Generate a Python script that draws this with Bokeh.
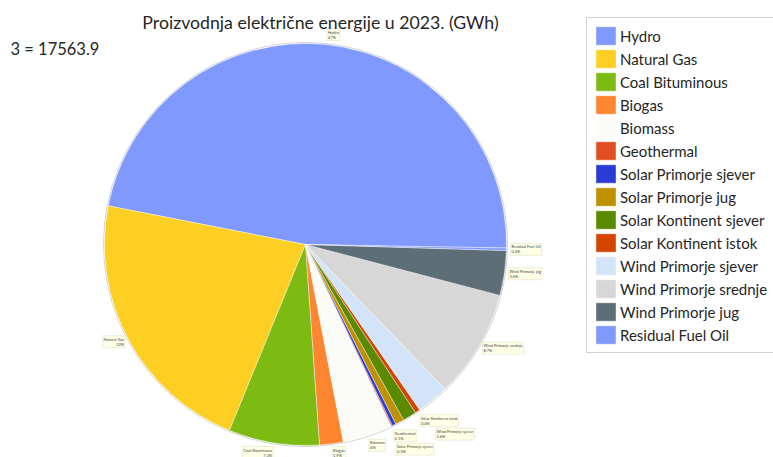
import math
from bokeh.plotting import figure
from bokeh.models import ColumnDataSource, Legend, LegendItem, Label, Range1d
from bokeh.embed import file_html
from bokeh.resources import INLINE
from bokeh.core.properties import value

# ---------------- data ----------------
categories = ["Hydro", "Natural Gas", "Coal Bituminous", "Biogas", "Biomass",
              "Geothermal", "Solar Primorje sjever", "Solar Primorje jug",
              "Solar Kontinent sjever", "Solar Kontinent istok",
              "Wind Primorje sjever", "Wind Primorje srednje",
              "Wind Primorje jug", "Residual Fuel Oil"]
values_gwh = [8290.0, 3846.5, 1282.2, 333.7, 702.6, 17.6, 52.7, 122.9,
              193.2, 70.3, 456.7, 1528.1, 632.3, 35.1]
colors = ["#8099FF", "#FCCF22", "#7DBB12", "#FF8630", "#FBFBF7", "#E04E22",
          "#2B3BD6", "#BF9000", "#5A8A00", "#D44500", "#D3E3F8", "#D7D7D7",
          "#5E6E77", "#8099FF"]
hidden_labels = ["Solar Primorje jug", "Solar Kontinent sjever"]
title_text = "Proizvodnja električne energije u 2023. (GWh)"

# ---------------- layout ----------------
W, H = 773, 457
CX, CY, R = 305, 213, 201
START = math.radians(-1.0)
FONT = "Lato"
GAP = 3

total = sum(values_gwh)
starts, ends, mids = [], [], []
acc = 0.0
for v in values_gwh:
    a0 = START + 2 * math.pi * acc / total
    acc += v
    a1 = START + 2 * math.pi * acc / total
    starts.append(a0)
    ends.append(a1)
    mids.append((a0 + a1) / 2)

src = ColumnDataSource(dict(cat=categories, val=values_gwh, color=colors,
                            start=starts, end=ends))

p = figure(width=W, height=H, x_range=Range1d(0, W), y_range=Range1d(0, H),
           output_backend="svg", toolbar_location=None,
           x_axis_location=None, y_axis_location=None,
           min_border=0, outline_line_color=None)
p.grid.visible = False
p.background_fill_color = "white"

# faint outline ring
p.circle(x=[CX], y=[CY], radius=R + 1, fill_color=None,
         line_color="#D2D2D2", line_width=1.0)

wedges = p.wedge(x=CX, y=CY, radius=R, start_angle="start", end_angle="end",
                 direction="anticlock", source=src, fill_color="color",
                 line_color="white", line_width=0.4)

# ---------------- slice labels ----------------
def fmt_pct(v):
    return "{:.2g}%".format(100.0 * v / total)

lx, ly, ltxt, lalign, lbase = [], [], [], [], []
placed = []
for cat, v, m in zip(categories, values_gwh, mids):
    if cat in hidden_labels:
        continue
    txt = cat + "\n" + fmt_pct(v)
    c, s = math.cos(m), math.sin(m)
    ax = CX + (R + 4) * c
    ay = CY + (R + 4) * s
    align = "left" if c >= 0 else "right"
    if s > 0.7:
        base = "bottom"
    elif s < -0.7:
        base = "top"
    else:
        base = "middle"
    w = 2.1 * max(len(cat), 4) + 4
    h = 10
    x0 = ax if align == "left" else ax - w
    x1 = x0 + w
    if base == "bottom":
        y0 = ay
    elif base == "top":
        y0 = ay - h
    else:
        y0 = ay - h / 2
    for _ in range(20):
        moved = False
        for (px0, px1, py0, py1) in placed:
            if x0 < px1 and x1 > px0 and y0 < py1 + GAP and y0 + h > py0 - GAP:
                shift = (y0 + h) - (py0 - GAP - 0.5)
                y0 -= shift
                ay -= shift
                moved = True
        if not moved:
            break
    # keep the label inside the canvas
    if y0 < 1:
        ay += 1 - y0
        y0 = 1
    placed.append((x0, x1, y0, y0 + h))
    lx.append(ax)
    ly.append(ay)
    ltxt.append(txt)
    lalign.append(align)
    lbase.append(base)

lsrc = ColumnDataSource(dict(x=lx, y=ly, text=ltxt, align=lalign, base=lbase))
p.text(x="x", y="y", text="text", source=lsrc, text_align="align",
       text_baseline="base", text_font=value(FONT), text_font_size="4px",
       text_color="#444444", text_line_height=1.0,
       background_fill_color="#FFFFE6", border_line_color="#E3E3C8",
       border_line_width=0.6, padding=1)

# ---------------- title & total ----------------
p.add_layout(Label(x=320, y=435, text=title_text, text_align="center",
                   text_baseline="middle", text_font=FONT,
                   text_font_size="17.7px", text_color="#262626"))
p.add_layout(Label(x=10, y=409, text="3 = {:.1f}".format(total),
                   text_align="left", text_baseline="middle",
                   text_font=FONT, text_font_size="16.5px",
                   text_color="#262626"))

# ---------------- legend ----------------
items = [LegendItem(label=c, renderers=[wedges], index=i)
         for i, c in enumerate(categories)]
legend = Legend(items=items, location=(586, 104), orientation="vertical",
                glyph_width=25, glyph_height=23, label_height=23,
                label_width=190, spacing=0, padding=6, margin=0,
                label_standoff=2, label_text_font=FONT,
                label_text_font_size="15px", label_text_color="#262626",
                border_line_color="#A8A8A8", border_line_width=1,
                background_fill_color="white", background_fill_alpha=1.0)
p.add_layout(legend)

open("out.html", "w").write(file_html(p, INLINE))
